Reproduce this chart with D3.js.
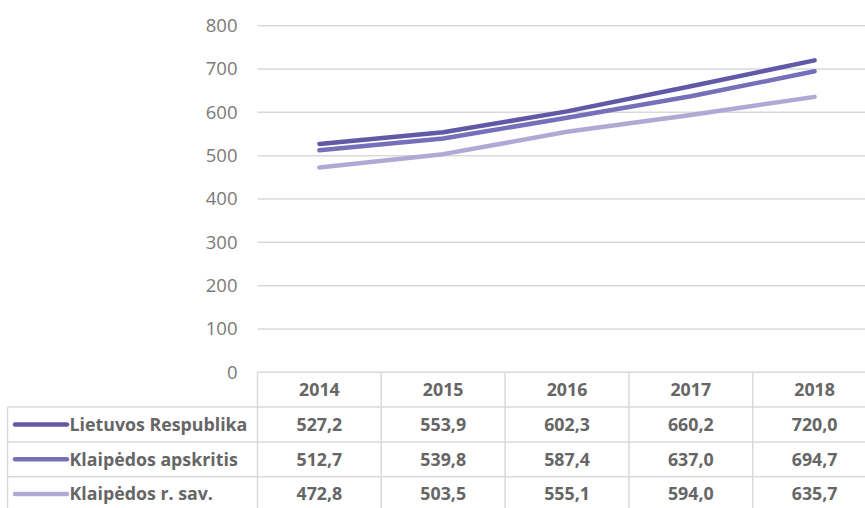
<!DOCTYPE html>
<html><head><meta charset="utf-8">
<script src="https://cdn.jsdelivr.net/npm/d3@7"></script>
<style>body{margin:0;background:#fff;overflow:hidden}svg{display:block}</style>
</head><body>
<svg id="c" width="865" height="508"></svg>
<script>
const years = ["2014","2015","2016","2017","2018"];
const seriesNames = ["Lietuvos Respublika","Klaipėdos apskritis","Klaipėdos r. sav."];
const lietuvos = [527.2,553.9,602.3,660.2,720.0];
const apskritis = [512.7,539.8,587.4,637.0,694.7];
const rsav = [472.8,503.5,555.1,594.0,635.7];
const yTicks = [0,100,200,300,400,500,600,700,800];
const colors = ["#6159a8","#7670ba","#b2a8d5"];
const seriesValues = [lietuvos, apskritis, rsav];
const fmt = v => v.toFixed(1).replace(".", ",");

const svg = d3.select("#c");
const plotLeft = 257.5, colW = 123.8, plotTop = 25.7, plotBottom = 372.3;
const legendLeft = 7.5, rowH = 34.8;
const font = "'Open Sans', sans-serif";
const txtC = "#666666";

const x = d3.scaleBand().domain(years).range([plotLeft, plotLeft + colW * years.length]);
const y = d3.scaleLinear().domain([0, 800]).range([plotBottom, plotTop]);

svg.append("g").selectAll("line").data(yTicks.filter(t => t > 0)).join("line")
  .attr("x1", plotLeft).attr("x2", 865).attr("y1", d => y(d)).attr("y2", d => y(d))
  .attr("stroke", "#d9d9d9").attr("stroke-width", 1.5);

const yAxis = d3.axisLeft(y).tickValues(yTicks).tickSize(0).tickPadding(0);
const ya = svg.append("g").attr("transform", `translate(${237.5},0)`).call(yAxis);
ya.select(".domain").remove();
ya.selectAll("text").attr("font-family", font).attr("font-size", 18.5).attr("fill", "#7a7a7a");

const line = d3.line().x((d, i) => x(years[i]) + x.bandwidth() / 2).y(d => y(d));
svg.append("g").selectAll("path").data(seriesValues).join("path")
  .attr("d", line).attr("fill", "none").attr("stroke", (d, i) => colors[i])
  .attr("stroke-width", 4.5).attr("stroke-linecap", "round").attr("stroke-linejoin", "round");

const tb = svg.append("g");
const plotRight = plotLeft + colW * years.length;
const gridC = "#d9d9d9";
tb.append("line").attr("x1", plotLeft).attr("x2", plotRight).attr("y1", plotBottom).attr("y2", plotBottom).attr("stroke", gridC).attr("stroke-width", 1.5);
for (let r = 1; r <= 4; r++) {
  const yy = plotBottom + rowH * r;
  tb.append("line").attr("x1", legendLeft).attr("x2", plotRight).attr("y1", yy).attr("y2", yy).attr("stroke", gridC).attr("stroke-width", 1.5);
}
tb.append("line").attr("x1", legendLeft).attr("x2", legendLeft).attr("y1", plotBottom + rowH).attr("y2", plotBottom + rowH * 4).attr("stroke", gridC).attr("stroke-width", 1.5);
years.forEach(yr => {
  tb.append("line").attr("x1", x(yr)).attr("x2", x(yr)).attr("y1", plotBottom).attr("y2", plotBottom + rowH * 4).attr("stroke", gridC).attr("stroke-width", 1.5);
});
tb.selectAll("text.h").data(years).join("text").attr("class", "h")
  .attr("x", d => x(d) + x.bandwidth() / 2).attr("y", plotBottom + rowH / 2).attr("dy", "0.35em")
  .attr("text-anchor", "middle").attr("font-family", font).attr("font-weight", "bold")
  .attr("font-size", 17.8).attr("fill", txtC).text(d => d);
seriesValues.forEach((vals, r) => {
  const cy = plotBottom + rowH * (r + 1) + rowH / 2;
  tb.append("line").attr("x1", 15).attr("x2", 67).attr("y1", cy).attr("y2", cy)
    .attr("stroke", colors[r]).attr("stroke-width", 4.5).attr("stroke-linecap", "round");
  tb.append("text").attr("x", 69.5).attr("y", cy).attr("dy", "0.35em")
    .attr("font-family", font).attr("font-weight", "bold").attr("font-size", 17.8)
    .attr("fill", txtC).text(seriesNames[r]);
  tb.selectAll("text.v" + r).data(vals).join("text").attr("class", "v" + r)
    .attr("x", (d, i) => x(years[i]) + x.bandwidth() / 2).attr("y", cy).attr("dy", "0.35em")
    .attr("text-anchor", "middle").attr("font-family", font).attr("font-weight", "bold")
    .attr("font-size", 17.8).attr("fill", txtC).text(d => fmt(d));
});
</script>
</body></html>
